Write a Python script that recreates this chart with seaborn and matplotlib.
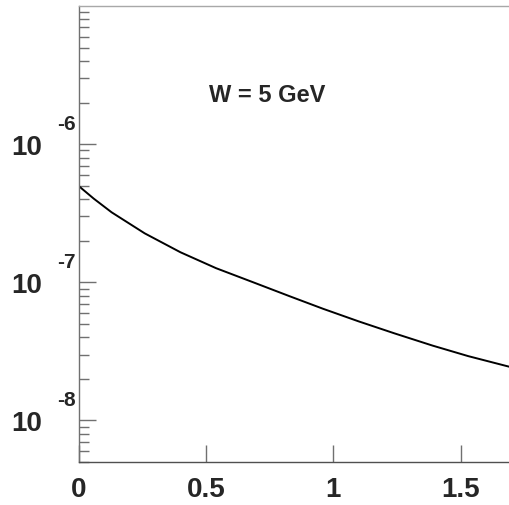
import matplotlib
matplotlib.use("Agg")
import matplotlib.pyplot as plt
import matplotlib.ticker as mticker
import seaborn as sns
import pandas as pd

# data
x_vals = [0.0, 0.06, 0.13, 0.26, 0.40, 0.54, 0.69, 0.83, 0.96, 1.10,
          1.24, 1.39, 1.53, 1.69]
y_vals = [4.99e-7, 4.03e-7, 3.21e-7, 2.26e-7, 1.65e-7, 1.265e-7, 9.93e-8,
          7.91e-8, 6.43e-8, 5.21e-8, 4.27e-8, 3.48e-8, 2.92e-8, 2.45e-8]
x_ticks = [0, 0.5, 1, 1.5]
x_tick_labels = ["0", "0.5", "1", "1.5"]
y_ticks = [1e-8, 1e-7, 1e-6]
y_exponents = ["-8", "-7", "-6"]
annotation = "W = 5 GeV"

sns.set_style("white")
plt.rcParams["font.family"] = ["Liberation Sans", "DejaVu Sans"]

fig = plt.figure(figsize=(5.09, 5.06), dpi=100)
ax = fig.add_axes([78.5 / 509, 1 - 463 / 506, 1 - 78.5 / 509, (463 - 7) / 506])

df = pd.DataFrame({"x": x_vals, "y": y_vals})
sns.lineplot(data=df, x="x", y="y", ax=ax, color="black", lw=1.4)

ax.set_yscale("log")
ax.set_xlim(0, 1.69)
ax.set_ylim(5e-9, 1e-5)
ax.set_xlabel("")
ax.set_ylabel("")

spine_col = "#707070"
for s in ["left", "top", "bottom"]:
    ax.spines[s].set_visible(True)
    ax.spines[s].set_color(spine_col)
    ax.spines[s].set_linewidth(1.0)
ax.spines["top"].set_color("#a8a8a8")
ax.spines["bottom"].set_color("#505050")
ax.spines["right"].set_visible(False)

ax.set_xticks(x_ticks)
ax.set_xticklabels(x_tick_labels, fontsize=20, fontweight="bold")
ax.xaxis.set_minor_locator(mticker.NullLocator())
ax.tick_params(axis="x", which="major", direction="in", length=12, width=1,
               color=spine_col, pad=10, top=False, bottom=True)

ax.set_yticks(y_ticks)
ax.set_yticklabels(["10"] * len(y_ticks), fontsize=20, fontweight="bold")
ax.yaxis.set_minor_locator(mticker.LogLocator(base=10, subs=range(2, 10), numticks=20))
ax.yaxis.set_minor_formatter(mticker.NullFormatter())
ax.tick_params(axis="y", which="major", direction="in", length=12, width=1,
               color=spine_col, pad=26, left=True, right=False)
ax.tick_params(axis="y", which="minor", direction="in", length=7, width=1,
               color=spine_col, left=True, right=False)

for yt, ex in zip(y_ticks, y_exponents):
    ax.annotate(ex, xy=(0, yt), xycoords=("axes fraction", "data"),
                xytext=(-2.5, 20.5), textcoords="offset pixels",
                ha="right", va="center", fontsize=15, fontweight="bold",
                annotation_clip=False)

fig.text(267 / 509, 1 - 95 / 506, annotation, fontsize=17,
         fontweight="bold", ha="center", va="center")

fig.savefig("out.png", dpi=100)
